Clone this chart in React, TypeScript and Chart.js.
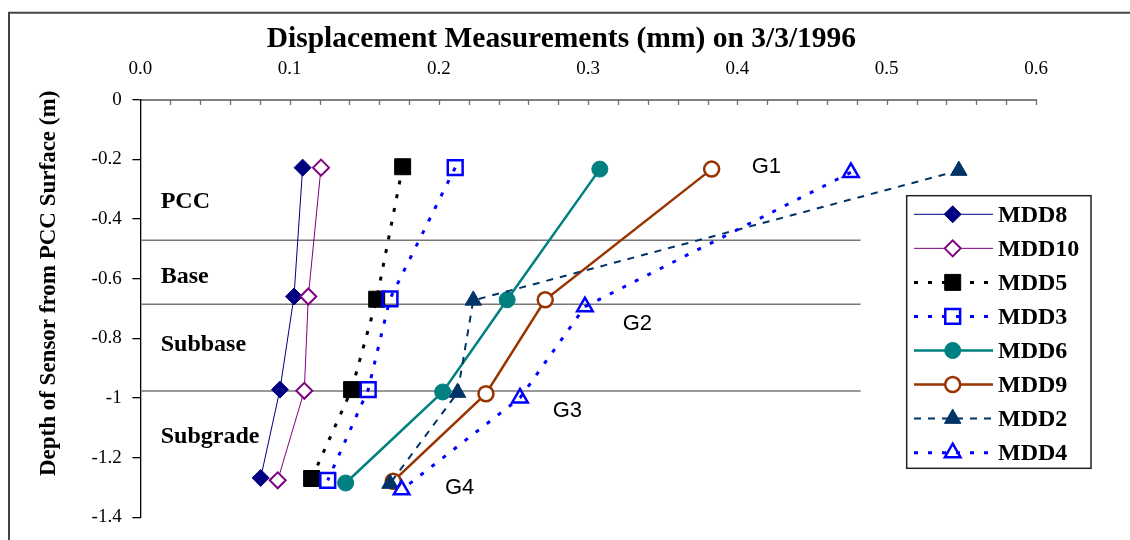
import React, { useEffect, useRef } from 'react';
import { Chart, registerables } from 'chart.js';
import { drawPoint } from 'chart.js/helpers';

Chart.register(...registerables);

// ---------- data ----------
const seriesNames = ['MDD8', 'MDD10', 'MDD5', 'MDD3', 'MDD6', 'MDD9', 'MDD2', 'MDD4'];

const mdd8X = [0.1087, 0.1029, 0.0935, 0.0806];
const mdd8Y = [-0.228, -0.66, -0.972, -1.268];
const mdd10X = [0.121, 0.1125, 0.1098, 0.092];
const mdd10Y = [-0.228, -0.66, -0.976, -1.276];
const mdd5X = [0.1757, 0.1583, 0.1415, 0.1147];
const mdd5Y = [-0.225, -0.669, -0.972, -1.27];
const mdd3X = [0.2109, 0.1672, 0.1526, 0.1255];
const mdd3Y = [-0.228, -0.668, -0.972, -1.276];
const mdd6X = [0.3078, 0.2457, 0.2025, 0.1375];
const mdd6Y = [-0.233, -0.671, -0.98, -1.285];
const mdd9X = [0.3827, 0.2712, 0.2315, 0.1694];
const mdd9Y = [-0.233, -0.671, -0.986, -1.279];
const mdd2X = [0.5483, 0.223, 0.2125, 0.1672];
const mdd2Y = [-0.238, -0.673, -0.982, -1.287];
const mdd4X = [0.476, 0.2978, 0.2543, 0.175];
const mdd4Y = [-0.244, -0.694, -1.0, -1.308];

const seriesX = [mdd8X, mdd10X, mdd5X, mdd3X, mdd6X, mdd9X, mdd2X, mdd4X];
const seriesY = [mdd8Y, mdd10Y, mdd5Y, mdd3Y, mdd6Y, mdd9Y, mdd2Y, mdd4Y];

const layerBoundaries = [-0.471, -0.686, -0.977];
const layerLineX = [0, 0.4825];
const layerNames = ['PCC', 'Base', 'Subbase', 'Subgrade'];
const groupLabels = ['G1', 'G2', 'G3', 'G4'];

const xMin = 0;
const xMax = 0.6;
const xMajorStep = 0.1;
const xMinorStep = 0.02;
const yMin = -1.4;
const yMax = 0;
const yStep = 0.2;

const chartTitle = 'Displacement Measurements (mm) on 3/3/1996';
const yAxisTitle = 'Depth of Sensor from PCC Surface (m)';

// ---------- styles ----------
const SERIF = '"Liberation Serif", "Times New Roman", serif';
const SANS = '"Liberation Sans", Arial, sans-serif';

const seriesStyles = [
  { color: '#000080', width: 1, dash: [], point: 'rectRot', radius: 8.5, fill: '#000080', pbw: 1 },
  { color: '#800080', width: 1, dash: [], point: 'rectRot', radius: 8, fill: '#ffffff', pbw: 2 },
  { color: '#000000', width: 3, dash: [4, 10], point: 'rect', radius: 11.3, fill: '#000000', pbw: 1 },
  { color: '#0000ff', width: 3, dash: [4, 10], point: 'rect', radius: 10.5, fill: 'rgba(0,0,0,0)', pbw: 2.5 },
  { color: '#008080', width: 2.5, dash: [], point: 'circle', radius: 8, fill: '#008080', pbw: 1 },
  { color: '#993300', width: 2.5, dash: [], point: 'circle', radius: 7.5, fill: '#ffffff', pbw: 2.5 },
  { color: '#003366', width: 2, dash: [7, 7], point: 'triangle', radius: 9.5, fill: '#003366', pbw: 1 },
  { color: '#0000ff', width: 3, dash: [4, 10], point: 'triangle', radius: 9, fill: 'rgba(0,0,0,0)', pbw: 2.5 },
];

const layerLabelPos = [
  { x: 160.7, y: 208.3 },
  { x: 160.7, y: 283.3 },
  { x: 160.7, y: 350.7 },
  { x: 160.7, y: 442.7 },
];
const groupLabelPos = [
  { x: 751.7, y: 173.3 },
  { x: 622.7, y: 330 },
  { x: 552.7, y: 417.3 },
  { x: 445, y: 494.3 },
];

const legendBox = { x: 906.7, y: 195.7, w: 184.3, h: 272.6 };
const legendFirstY = 214.3;
const legendStep = 34.05;

const decorPlugin = {
  id: 'decor',
  beforeDraw(chart: any) {
    const ctx = chart.ctx;
    ctx.save();
    ctx.fillStyle = '#ffffff';
    ctx.fillRect(0, 0, chart.width, chart.height);
    // outer frame
    ctx.strokeStyle = '#444444';
    ctx.lineWidth = 2;
    ctx.beginPath();
    ctx.moveTo(9, 540);
    ctx.lineTo(9, 12.7);
    ctx.lineTo(1130, 12.7);
    ctx.stroke();
    ctx.restore();
  },
  afterDraw(chart: any) {
    const ctx = chart.ctx;
    const xs = chart.scales.x;
    const area = chart.chartArea;
    ctx.save();
    // minor ticks on top axis (inward)
    ctx.strokeStyle = '#707070';
    ctx.lineWidth = 1.3;
    ctx.beginPath();
    const n = Math.round((xMax - xMin) / xMinorStep);
    for (let i = 1; i <= n; i++) {
      const px = Math.round(xs.getPixelForValue(xMin + i * xMinorStep)) + 0.5;
      ctx.moveTo(px, area.top);
      ctx.lineTo(px, area.top + 5.5);
    }
    ctx.stroke();

    // title
    ctx.fillStyle = '#000';
    ctx.font = `bold 29.5px ${SERIF}`;
    ctx.textAlign = 'center';
    ctx.textBaseline = 'alphabetic';
    ctx.fillText(chartTitle, 561.4, 46.7);

    // y axis title
    ctx.save();
    ctx.translate(54.5, 283.4);
    ctx.rotate(-Math.PI / 2);
    ctx.font = `bold 23px ${SERIF}`;
    ctx.textAlign = 'center';
    ctx.textBaseline = 'alphabetic';
    ctx.fillText(yAxisTitle, 0, 0);
    ctx.restore();

    // layer labels
    ctx.font = `bold 24px ${SERIF}`;
    ctx.textAlign = 'left';
    layerNames.forEach((t, i) => ctx.fillText(t, layerLabelPos[i].x, layerLabelPos[i].y));

    // group labels
    ctx.font = `22px ${SANS}`;
    groupLabels.forEach((t, i) => ctx.fillText(t, groupLabelPos[i].x, groupLabelPos[i].y));

    // legend
    ctx.fillStyle = '#ffffff';
    ctx.fillRect(legendBox.x, legendBox.y, legendBox.w, legendBox.h);
    ctx.strokeStyle = '#222';
    ctx.lineWidth = 1.5;
    ctx.strokeRect(legendBox.x, legendBox.y, legendBox.w, legendBox.h);
    seriesNames.forEach((name, i) => {
      const st = seriesStyles[i];
      const cy = legendFirstY + i * legendStep;
      ctx.strokeStyle = st.color;
      ctx.lineWidth = st.width;
      ctx.setLineDash(st.dash);
      ctx.beginPath();
      ctx.moveTo(914, cy);
      ctx.lineTo(993, cy);
      ctx.stroke();
      ctx.setLineDash([]);
      ctx.fillStyle = st.fill;
      ctx.strokeStyle = st.color;
      ctx.lineWidth = st.pbw;
      drawPoint(ctx, { pointStyle: st.point, radius: st.radius, rotation: 0, borderWidth: st.pbw } as any, 952.7, cy);
      ctx.fillStyle = '#000';
      ctx.font = `bold 24px ${SERIF}`;
      ctx.textAlign = 'left';
      ctx.textBaseline = 'middle';
      ctx.fillText(name, 998, cy + 1);
    });
    ctx.restore();
  },
};

export default function App() {
  const ref = useRef<HTMLCanvasElement>(null);
  useEffect(() => {
    if (!ref.current) return;
    const datasets: any[] = seriesNames.map((name, i) => {
      const st = seriesStyles[i];
      return {
        label: name,
        data: seriesX[i].map((x, j) => ({ x, y: seriesY[i][j] })),
        showLine: true,
        borderColor: st.color,
        borderWidth: st.width,
        borderDash: st.dash,
        pointStyle: st.point,
        pointRadius: st.radius,
        pointBackgroundColor: st.fill,
        pointBorderColor: st.color,
        pointBorderWidth: st.pbw,
        tension: 0,
        order: seriesNames.length - i,
      };
    });
    layerBoundaries.forEach((b, k) => {
      datasets.push({
        label: 'boundary' + k,
        data: layerLineX.map((x) => ({ x, y: b })),
        showLine: true,
        borderColor: '#777777',
        borderWidth: 1.5,
        pointRadius: 0,
        order: 100 + k,
      });
    });
    const chart = new Chart(ref.current, {
      type: 'scatter',
      data: { datasets },
      options: {
        responsive: false,
        animation: false,
        events: [],
        layout: { padding: { left: 0, right: 94, top: 0, bottom: 22.7 } },
        plugins: {
          legend: { display: false },
          tooltip: { enabled: false },
          title: { display: false },
        },
        scales: {
          x: {
            type: 'linear',
            position: 'top',
            min: xMin,
            max: xMax,
            ticks: {
              stepSize: xMajorStep,
              callback: (v: any) => Number(v).toFixed(1),
              font: { family: SERIF, size: 19 },
              color: '#000',
              padding: 19,
              maxRotation: 0,
              autoSkip: false,
            },
            grid: { display: false, drawTicks: false },
            border: { display: true, color: '#808080', width: 2 },
            afterFit: (s: any) => {
              s.height = 99.6;
            },
          },
          y: {
            type: 'linear',
            min: yMin,
            max: yMax,
            ticks: {
              stepSize: yStep,
              callback: (v: any) => String(Math.round(Number(v) * 10) / 10),
              font: { family: SERIF, size: 19 },
              color: '#000',
              padding: 10.7,
            },
            grid: { display: true, drawOnChartArea: false, drawTicks: true, tickLength: 8, color: '#000', lineWidth: 1.3 },
            border: { display: true, color: '#000', width: 1.3 },
            afterFit: (s: any) => {
              s.width = 140.4;
            },
          },
        },
      } as any,
      plugins: [decorPlugin],
    });
    return () => chart.destroy();
  }, []);
  return (
    <div style={{ position: 'absolute', left: 0, top: 0, width: 1130, height: 540, background: '#fff' }}>
      <canvas ref={ref} width={1130} height={540} style={{ display: 'block' }} />
    </div>
  );
}
